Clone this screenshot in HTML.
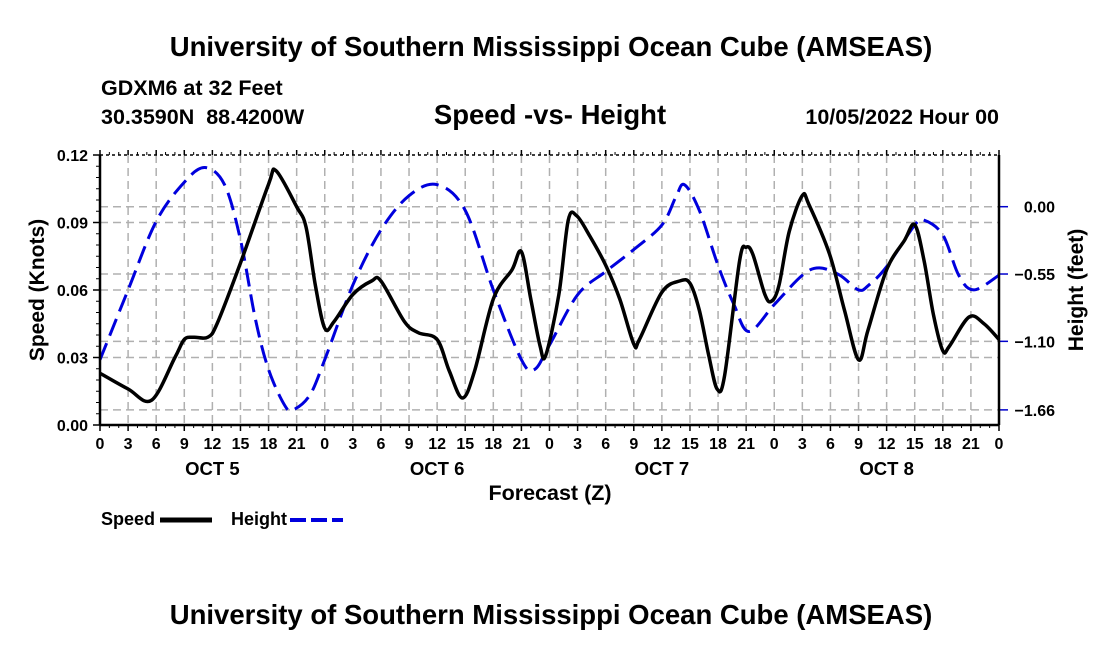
<!DOCTYPE html>
<html><head><meta charset="utf-8"><style>
body{margin:0;background:#fff}
svg text{font-family:"Liberation Sans",Arial,sans-serif;font-weight:bold;fill:#000}
</style></head><body>
<svg id="chart" width="1100" height="650" viewBox="0 0 1100 650" xmlns="http://www.w3.org/2000/svg">
<text x="551" y="56" font-size="27.5" text-anchor="middle">University of Southern Mississippi Ocean Cube (AMSEAS)</text>
<text x="101" y="95" font-size="21.5">GDXM6 at 32 Feet</text>
<text x="101" y="124" font-size="21.5">30.3590N&#160;&#160;88.4200W</text>
<text x="550" y="124" font-size="27.5" text-anchor="middle">Speed -vs- Height</text>
<text x="999" y="124" font-size="21.5" text-anchor="end">10/05/2022 Hour 00</text>
<g id="grid"></g>
<g id="series"></g>
<g id="axes"></g>
<text x="550" y="500" font-size="21.5" text-anchor="middle">Forecast (Z)</text>
<text transform="translate(44,290) rotate(-90)" font-size="21" text-anchor="middle">Speed (Knots)</text>
<text transform="translate(1083,290) rotate(-90)" font-size="21" text-anchor="middle">Height (feet)</text>
<g>
<text x="101" y="525" font-size="18">Speed</text>
<line x1="160" y1="520" x2="212" y2="520" stroke="#000" stroke-width="5"/>
</g>
<g>
<text x="231" y="525" font-size="18">Height</text>
<line x1="290" y1="520" x2="343" y2="520" stroke="#0000dd" stroke-width="4" stroke-dasharray="16,5"/>
</g>
<text x="551" y="624" font-size="27.5" text-anchor="middle">University of Southern Mississippi Ocean Cube (AMSEAS)</text>
</svg>
<script>
const speedHours=[0,3,5.5,8,9,10,11.5,12.5,15,18,18.8,21,22,23,24,25,27,29,30,32.5,34,36,37.3,38.7,40,42,44,45,46,47,47.6,49,50,50.9,52.3,54,55.5,57,57.6,60,61.9,63,64,65,65.9,66.7,68.3,69,69.7,71,71.7,72.5,73.6,75,75.7,77.9,79.5,81,82,84,85.9,87,88,89,90,90.7,92.8,94.4,96];
const speedValues=[0.023,0.016,0.011,0.030,0.038,0.039,0.039,0.045,0.072,0.107,0.113,0.097,0.088,0.062,0.043,0.046,0.058,0.064,0.064,0.046,0.041,0.038,0.024,0.012,0.024,0.056,0.069,0.077,0.056,0.035,0.031,0.058,0.091,0.093,0.084,0.071,0.056,0.036,0.038,0.059,0.064,0.063,0.051,0.031,0.016,0.022,0.073,0.079,0.076,0.058,0.055,0.062,0.086,0.102,0.098,0.076,0.051,0.029,0.042,0.069,0.082,0.089,0.073,0.049,0.033,0.035,0.048,0.045,0.038];
const heightHours=[0,3,6,9,11.2,13.3,15,16.6,18,19.7,20.6,22.4,24,27,30,33,36,39,42,45,46.4,48,51,54,57,60,61.5,62.4,64,66,67.7,69.3,72,75,76.8,79,81,82.1,84,87,88,90,91.7,93.3,96];
const heightValues=[-1.25,-0.68,-0.12,0.20,0.32,0.18,-0.27,-0.92,-1.33,-1.62,-1.66,-1.54,-1.25,-0.64,-0.19,0.09,0.18,-0.03,-0.68,-1.25,-1.33,-1.13,-0.72,-0.53,-0.35,-0.15,0.08,0.18,-0.03,-0.48,-0.80,-1.02,-0.80,-0.56,-0.50,-0.56,-0.68,-0.64,-0.49,-0.15,-0.11,-0.23,-0.56,-0.68,-0.56];
const speedTicks=[0,0.03,0.06,0.09,0.12];
const speedTickLabels=["0.00","0.03","0.06","0.09","0.12"];
const heightTicks=[0,-0.55,-1.10,-1.66];
const heightTickLabels=["0.00","\u22120.55","\u22121.10","\u22121.66"];
const hourLabels=["0","3","6","9","12","15","18","21"];
const dayLabels=["OCT 5","OCT 6","OCT 7","OCT 8"];

const L=100,R=999,T=155,B=425;
const xs=h=>L+h*(R-L)/96;
const ys=v=>B-v*(B-T)/0.12;
const yh=f=>206.7-f*122.4;
const NS="http://www.w3.org/2000/svg";
function mk(tag,attrs,parent,txt){const e=document.createElementNS(NS,tag);for(const k in attrs)e.setAttribute(k,attrs[k]);if(txt!==undefined)e.textContent=txt;parent.appendChild(e);return e;}
const grid=document.getElementById('grid'),axes=document.getElementById('axes'),series=document.getElementById('series');
const gs={stroke:"#b0b0b0","stroke-width":1.5,"stroke-dasharray":"8,5"};
for(let i=1;i<32;i++){const l=mk('line',Object.assign({x1:xs(i*3),x2:xs(i*3),y1:T,y2:B},gs),grid);

}
speedTicks.forEach((v,i)=>{if(i>0&&i<4){const l=mk('line',Object.assign({x1:L,x2:R,y1:ys(v),y2:ys(v)},gs),grid);

}
const t=mk('text',{x:L-12,y:ys(v)+6,"font-size":16,"text-anchor":"end"},axes,speedTickLabels[i]);


mk('line',{x1:L-7,x2:L,y1:ys(v),y2:ys(v),stroke:"#000","stroke-width":1.5},axes);});
for(let k=0;k<24;k++){const v=k*0.005;mk('line',{x1:L-4,x2:L,y1:ys(v),y2:ys(v),stroke:"#000","stroke-width":1},axes);}
heightTicks.forEach((f,i)=>{const l=mk('line',Object.assign({x1:L,x2:R,y1:yh(f),y2:yh(f)},gs),grid);


mk('line',{x1:R,x2:R+9,y1:yh(f),y2:yh(f),stroke:"#0000cc","stroke-width":1.5},axes);
const t=mk('text',{x:1055,y:yh(f)+6,"font-size":16,"text-anchor":"end"},axes,heightTickLabels[i]);

});
for(let i=0;i<=32;i++){const x=xs(i*3);
mk('line',{x1:x,x2:x,y1:B,y2:B+6,stroke:"#000","stroke-width":1.5},axes);
mk('line',{x1:x,x2:x,y1:T,y2:T-5,stroke:"#000","stroke-width":1.5},axes);
const t=mk('text',{x:x,y:449,"font-size":16,"text-anchor":"middle"},axes,hourLabels[i%8]);

}
for(let i=0;i<96;i++){if(i%3){mk('line',{x1:xs(i),x2:xs(i),y1:B,y2:B+3,stroke:"#000"},axes);mk('line',{x1:xs(i),x2:xs(i),y1:T,y2:T-3,stroke:"#000"},axes);}}
dayLabels.forEach((d,i)=>{const t=mk('text',{x:xs(i*24+12),y:475,"font-size":18.5,"text-anchor":"middle"},axes,d);

});
mk('line',{x1:L,x2:L,y1:T,y2:B,stroke:"#000","stroke-width":2.5},axes);
mk('line',{x1:R,x2:R,y1:T,y2:B,stroke:"#000","stroke-width":2.5},axes);
mk('line',{x1:L,x2:R,y1:B,y2:B,stroke:"#000","stroke-width":2.5},axes);
mk('line',{x1:L,x2:R,y1:T,y2:T,stroke:"#000","stroke-width":1.5,"stroke-dasharray":"3,3"},axes);
function path(pts){let d=`M${pts[0][0]},${pts[0][1]}`;for(let i=0;i<pts.length-1;i++){const p0=pts[Math.max(0,i-1)],p1=pts[i],p2=pts[i+1],p3=pts[Math.min(pts.length-1,i+2)];
d+=` C${p1[0]+(p2[0]-p0[0])/6},${p1[1]+(p2[1]-p0[1])/6} ${p2[0]-(p3[0]-p1[0])/6},${p2[1]-(p3[1]-p1[1])/6} ${p2[0]},${p2[1]}`;}return d;}
const hp=mk('path',{d:path(heightHours.map((h,i)=>[xs(h),yh(heightValues[i])])),fill:"none",stroke:"#0000dd","stroke-width":3,"stroke-dasharray":"18,8"},series);


const sp=mk('path',{d:path(speedHours.map((h,i)=>[xs(h),ys(speedValues[i])])),fill:"none",stroke:"#000","stroke-width":3.5,"stroke-linejoin":"round"},series);


</script>
</body></html>
